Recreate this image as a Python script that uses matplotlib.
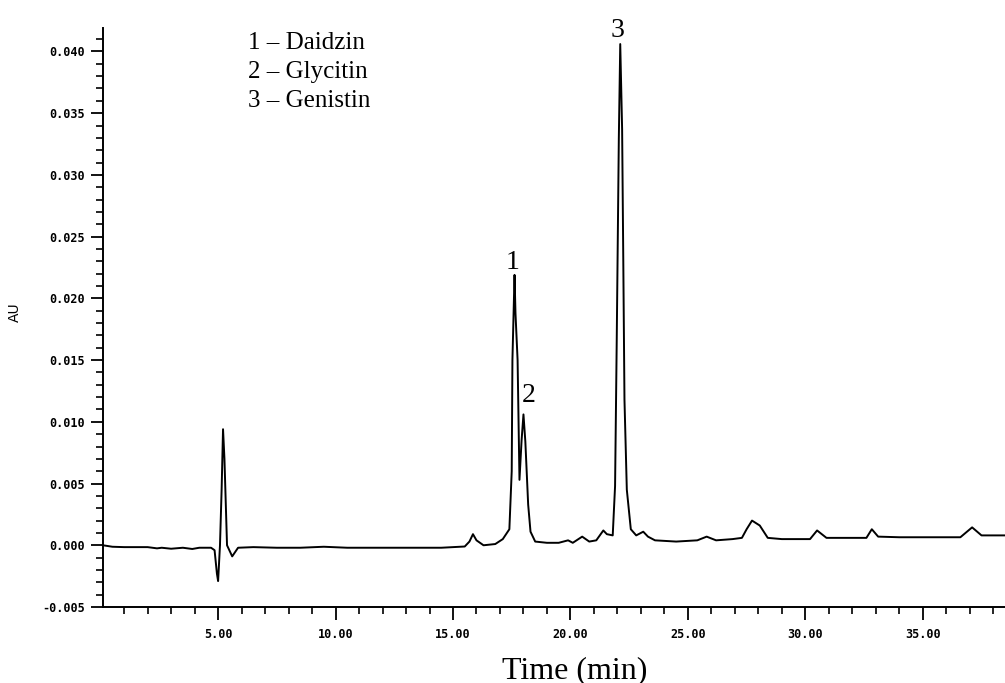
import matplotlib
matplotlib.use("Agg")
import matplotlib.pyplot as plt
from matplotlib.ticker import MultipleLocator, FuncFormatter

# chromatogram (time in min, absorbance in AU)
time_min = [0.1, 0.5, 1.0, 2.0, 2.4, 2.6, 3.0, 3.5, 3.9, 4.2, 4.7, 4.85, 4.95,
            5.0, 5.08, 5.15, 5.21, 5.27, 5.38, 5.6, 5.85, 6.5, 7.5, 8.5, 9.5,
            10.5, 11.5, 12.5, 13.5, 14.5, 15.5, 15.7, 15.85, 16.0, 16.3, 16.8,
            17.12, 17.4, 17.5, 17.53, 17.62, 17.66, 17.75, 17.83, 17.92, 18.0,
            18.08, 18.2, 18.3, 18.5, 19.0, 19.5, 19.9, 20.1, 20.5, 20.8, 21.1,
            21.4, 21.55, 21.8, 21.9, 21.97, 22.06, 22.12, 22.2, 22.25, 22.3,
            22.4, 22.57, 22.8, 23.1, 23.3, 23.6, 24.5, 25.4, 25.8, 26.2, 26.9,
            27.3, 27.5, 27.73, 28.06, 28.4, 29.0, 30.2, 30.5, 30.9, 31.5, 32.6,
            32.83, 33.1, 34.0, 36.6, 37.1, 37.5, 38.5]
absorbance = [0.0, -0.00012, -0.00015, -0.00015, -0.00025, -0.0002, -0.00028,
              -0.0002, -0.0003, -0.0002, -0.0002, -0.0004, -0.0023,
              -0.0029, 0.0, 0.0045, 0.0094, 0.007, 0.0, -0.0009, -0.0002,
              -0.00015, -0.0002, -0.0002, -0.00012,
              -0.0002, -0.0002, -0.0002, -0.0002, -0.0002, -0.0001, 0.0003,
              0.0009, 0.0004, 0.0, 0.0001,
              0.0005, 0.0013, 0.006, 0.015, 0.0219, 0.0188, 0.015, 0.0053,
              0.0085, 0.0106,
              0.0084, 0.0033, 0.0011, 0.0003, 0.0002, 0.0002, 0.0004, 0.0002,
              0.0007, 0.0003, 0.0004,
              0.0012, 0.0009, 0.0008, 0.0048, 0.0165, 0.033, 0.0406, 0.0337,
              0.023, 0.0118,
              0.0045, 0.0013, 0.0008, 0.0011, 0.0007, 0.0004, 0.0003, 0.0004,
              0.0007, 0.0004, 0.0005,
              0.0006, 0.0013, 0.002, 0.0016, 0.0006, 0.0005, 0.0005, 0.0012,
              0.0006, 0.0006, 0.0006,
              0.0013, 0.0007, 0.00065, 0.00065, 0.00145, 0.0008, 0.0008]

peak_ids = ["1", "2", "3"]
peak_names = ["Daidzin", "Glycitin", "Genistin"]
peak_label_x = [17.55, 18.23, 22.02]
peak_label_y = [0.0224, 0.0116, 0.0412]

fig = plt.figure(figsize=(10.05, 6.83), dpi=100)
ax = fig.add_axes([103 / 1005, 1 - 607 / 683, 1 - 103 / 1005, (607 - 28) / 683])

ax.plot(time_min, absorbance, color="black", lw=1.4)

ax.set_xlim(0.1, 38.5)
ax.set_ylim(-0.005, 0.0419)

for s in ["top", "right"]:
    ax.spines[s].set_visible(False)
for s in ["left", "bottom"]:
    ax.spines[s].set_linewidth(1.4)

ax.xaxis.set_major_locator(MultipleLocator(5))
ax.xaxis.set_minor_locator(MultipleLocator(1))
ax.yaxis.set_major_locator(MultipleLocator(0.005))
ax.yaxis.set_minor_locator(MultipleLocator(0.001))
ax.xaxis.set_major_formatter(FuncFormatter(lambda v, p: "%.2f" % v if v > 0 else ""))
ax.yaxis.set_major_formatter(FuncFormatter(lambda v, p: "%.3f" % v))

ax.tick_params(axis="both", which="major", length=9, width=1.3, labelsize=8.5,
               direction="out")
ax.tick_params(axis="both", which="minor", length=5, width=1.2, direction="out")
ax.tick_params(axis="x", which="major", pad=6)
ax.tick_params(axis="y", which="major", pad=4)
for lab in ax.get_xticklabels() + ax.get_yticklabels():
    lab.set_fontweight("bold")
    lab.set_family("DejaVu Sans Mono")

# peak numbers
for pid, px, py in zip(peak_ids, peak_label_x, peak_label_y):
    ax.text(px, py, pid, ha="center", va="baseline", fontsize=20,
            family="Liberation Serif", clip_on=False)

# compound key
for i, (pid, name) in enumerate(zip(peak_ids, peak_names)):
    fig.text(248 / 1005, 1 - (49 + 29 * i) / 683, pid + " \u2013 " + name,
             ha="left", va="baseline", fontsize=18, family="Liberation Serif")

fig.text(15 / 1005, 1 - 312 / 683, "AU", rotation=90, ha="center", va="center",
         fontsize=10)
fig.text(575 / 1005, 1 - 678 / 683, "Time (min)", ha="center", va="baseline",
         fontsize=23, family="Liberation Serif")

fig.savefig("out.png", dpi=100)
